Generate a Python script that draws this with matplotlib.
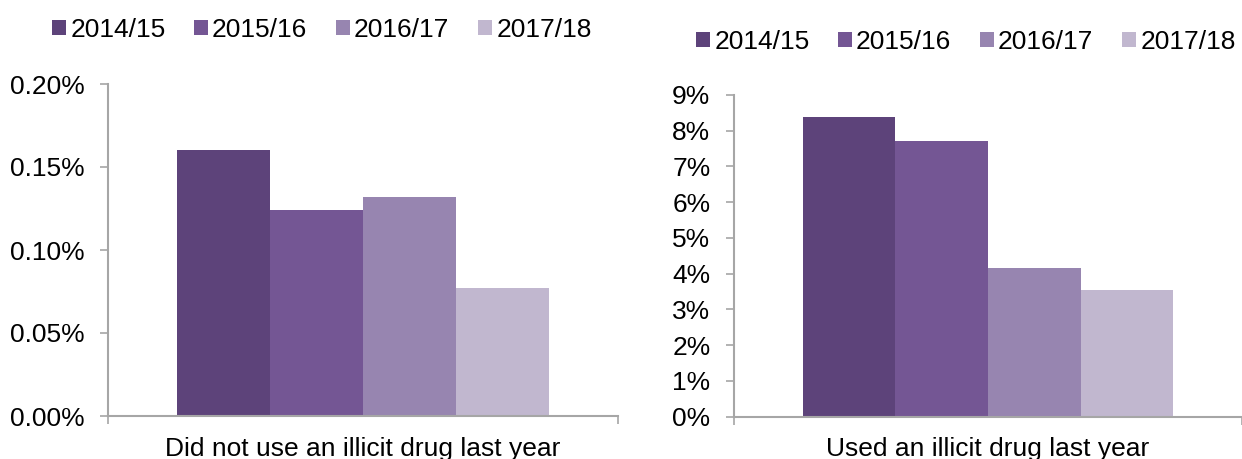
import matplotlib
matplotlib.use("Agg")
import matplotlib.pyplot as plt
from matplotlib.ticker import FuncFormatter
import numpy as np

plt.rcParams['font.family'] = ['Liberation Sans', 'DejaVu Sans']

years = ["2014/15", "2015/16", "2016/17", "2017/18"]
colors = ["#5D437A", "#745694", "#9785B0", "#C1B7CF"]

left_category = "Did not use an illicit drug last year"
left_values = [0.160, 0.124, 0.132, 0.077]   # percent

right_category = "Used an illicit drug last year"
right_values = [8.38, 7.72, 4.17, 3.53]      # percent

fig = plt.figure(figsize=(12.42, 4.59), dpi=100)
axL = fig.add_axes([108/1242, 1-416/459, (618-108)/1242, (416-84)/459])
axR = fig.add_axes([734/1242, 1-416.5/459, (1242-734)/1242, (416.5-95)/459])

group_w = 0.73
bw = group_w / len(years)
grey = "#A6A6A6"
FS = 19

def draw(ax, values, category, ymax, yticks, fmt, legend_xy):
    handles = []
    for i, (v, c) in enumerate(zip(values, colors)):
        x = -group_w/2 + bw*(i+0.5)
        h = ax.bar(x, v, width=bw, color=c, label=years[i], linewidth=0)
        handles.append(h)
    ax.set_xlim(-0.5, 0.5)
    ax.set_ylim(0, ymax)
    ax.set_yticks(yticks)
    ax.yaxis.set_major_formatter(FuncFormatter(fmt))
    ax.set_xticks([0])
    ax.set_xticklabels([category])
    ax.set_xticks([-0.5, 0.5], minor=True)
    ax.tick_params(axis='x', which='major', length=0, labelsize=FS, pad=15)
    ax.tick_params(axis='x', which='minor', length=6, color=grey, width=1.2)
    ax.tick_params(axis='y', length=6, color=grey, width=1.2, labelsize=FS, pad=11)
    for s in ['top', 'right']:
        ax.spines[s].set_visible(False)
    for s in ['left', 'bottom']:
        ax.spines[s].set_color(grey)
        ax.spines[s].set_linewidth(1.5)
    fig.legend(handles=handles, labels=years, loc='center', bbox_to_anchor=legend_xy,
               ncol=4, frameon=False, fontsize=FS, handlelength=0.53, handleheight=0.53,
               handletextpad=0.14, columnspacing=1.1, borderaxespad=0)

draw(axL, left_values, left_category, 0.20, [0, 0.05, 0.10, 0.15, 0.20],
     lambda v, p: f"{v:.2f}%", (322/1242, 1-30/459))
draw(axR, right_values, right_category, 9, list(range(0, 10)),
     lambda v, p: f"{v:.0f}%", (966/1242, 1-42/459))

fig.savefig("out.png", dpi=100)
